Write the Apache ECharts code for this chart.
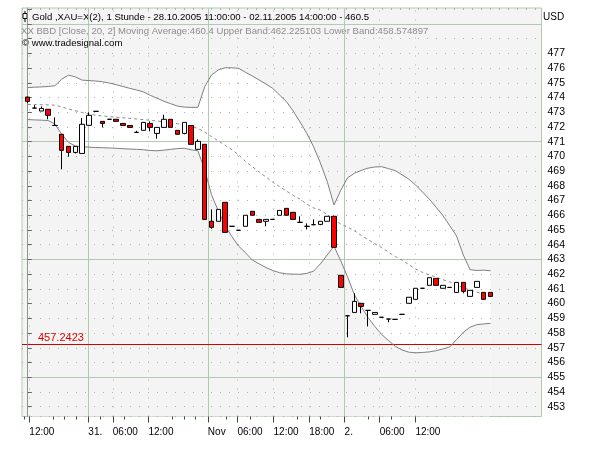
<!DOCTYPE html>
<html>
<head>
<meta charset="utf-8">
<script src="https://cdn.jsdelivr.net/npm/echarts@6/dist/echarts.min.js"></script>
<style>
html, body { margin: 0; background: #fff; }
#main { width: 600px; height: 450px; }
</style>
</head>
<body>
<div id="main"></div>
<script>
// Gold XAU=X(2), 1 Stunde, 28.10.2005 11:00 - 02.11.2005 14:00 (bar index 0..68)
var opens  = [474.03,473.28,473.08,473.20,472.10,471.50,470.68,470.27,470.20,472.11,
              473.06,472.38,472.52,472.52,472.24,472.10,471.63,471.77,472.24,471.56,
              471.97,472.52,471.77,471.56,472.10,470.48,470.82,465.59,465.59,466.88,
              465.25,464.98,465.25,466.27,465.72,465.59,465.72,466.00,466.47,466.20,
              465.52,465.25,465.36,465.38,465.59,465.93,461.92,459.17,459.40,460.02,
              459.54,459.27,459.07,458.95,458.93,459.27,460.02,460.29,461.04,461.24,
              461.71,461.04,461.10,460.76,461.44,460.49,461.10,460.76,460.76];
var closes = [473.74,473.28,473.26,472.79,472.10,470.41,470.27,470.68,472.18,472.79,
              473.06,472.24,472.52,472.38,472.10,471.97,471.63,472.31,471.97,471.97,
              472.52,471.97,471.50,472.31,470.82,471.02,465.72,465.18,466.40,464.84,
              465.25,464.98,466.00,466.00,465.52,465.72,465.72,466.33,466.00,465.72,
              465.52,465.25,465.36,465.59,465.93,463.82,461.10,459.17,460.15,459.81,
              459.54,459.40,459.07,458.95,458.93,459.27,460.43,461.04,461.04,461.76,
              461.24,461.24,461.10,461.44,460.83,460.90,461.51,460.29,460.49];
var lows   = [473.62,473.28,473.08,472.52,472.10,469.12,469.98,470.20,470.20,472.11,
              473.06,471.97,472.52,472.38,472.10,471.97,471.63,471.77,471.70,471.20,
              471.97,471.97,471.50,471.50,470.82,470.48,465.72,465.08,465.59,464.84,
              465.25,464.98,465.25,466.00,465.52,465.25,465.72,466.00,466.00,465.72,
              465.52,465.04,465.36,465.33,465.59,463.82,461.10,457.71,459.40,459.34,
              458.45,459.27,459.07,458.73,458.93,459.27,460.02,460.29,461.04,461.24,
              461.24,461.04,461.10,460.76,460.70,460.49,461.10,460.29,460.49];
var highs  = [474.05,473.48,473.40,473.20,472.65,471.50,470.68,470.70,472.60,472.99,
              473.06,472.38,472.52,472.52,472.24,472.10,471.74,472.31,472.38,471.97,
              472.83,472.52,471.77,472.31,472.10,471.16,470.82,466.40,466.40,466.88,
              465.25,464.98,466.00,466.27,465.72,465.72,465.72,466.33,466.47,466.20,
              465.93,465.45,465.72,465.59,465.93,465.98,461.92,459.17,460.70,460.02,
              459.54,459.40,459.07,458.95,458.93,459.27,460.43,461.04,461.04,461.76,
              461.71,461.24,461.10,461.44,461.44,460.90,461.51,460.76,460.76];

// Bollinger Bands [Close, 20, 2]
var upperBand = [474.67,474.70,474.72,474.75,474.80,475.25,475.52,475.40,475.18,475.15,
                 475.12,475.07,474.98,474.87,474.75,474.62,474.51,474.38,474.15,473.95,
                 473.75,473.58,473.42,473.35,473.33,473.33,474.73,475.53,475.87,476.02,
                 476.02,475.98,475.71,475.46,475.19,474.92,474.62,474.17,473.73,473.08,
                 472.35,471.57,470.66,469.55,468.30,466.70,467.70,468.55,468.85,469.05,
                 469.20,469.28,469.30,469.17,469.03,468.75,468.45,468.05,467.58,467.10,
                 466.55,465.98,465.30,464.60,463.30,462.30,462.25,462.27,462.23];
var movingAvg = [473.53,473.52,473.51,473.50,473.48,473.36,473.22,473.10,472.98,472.88,
                 472.80,472.74,472.70,472.66,472.62,472.58,472.54,472.50,472.45,472.40,
                 472.35,472.30,472.22,472.14,472.05,471.90,471.65,471.35,471.05,470.75,
                 470.45,470.10,469.65,469.30,468.95,468.60,468.25,467.95,467.65,467.35,
                 467.10,466.75,466.50,466.35,466.05,465.70,465.40,465.20,464.95,464.63,
                 464.35,464.07,463.80,463.50,463.20,462.95,462.65,462.35,462.12,461.95,
                 461.80,461.62,461.47,461.30,461.08,460.92,460.78,460.62,460.45];
var lowerBand = [472.50,472.48,472.46,472.44,472.20,471.50,470.95,470.70,470.65,470.63,
                 470.60,470.59,470.57,470.55,470.52,470.50,470.48,470.45,470.40,470.38,
                 470.42,470.48,470.53,470.55,470.45,470.38,469.10,467.40,466.30,465.30,
                 464.55,463.90,463.45,462.96,462.70,462.45,462.25,462.10,462.02,462.00,
                 461.99,462.05,462.20,462.70,463.30,463.90,462.90,461.80,460.60,459.80,
                 459.05,458.45,457.90,457.50,457.10,456.85,456.70,456.66,456.68,456.72,
                 456.80,456.92,457.05,457.55,458.05,458.40,458.57,458.62,458.66];

// time axis labels, placed in bar units
var xTickPos    = [0.24, 8.91, 12.5, 17.74, 26.47, 30.82, 36.12, 41.37, 46.56, 51.71, 56.96];
var xTickLabels = ['12:00', '31.', '06:00', '12:00', 'Nov', '06:00', '12:00', '18:00', '2.', '06:00', '12:00'];
var xMinorTicks = [-0.54, 3.82, 5.44, 7.1, 10.63, 14.16, 21.26, 22.94, 24.6, 29.12, 32.65, 39.56, 43.04, 50.09, 53.38];
var dayLabels   = ['31.', 'Nov', '2.'];
var majorLevels = [455, 463, 471, 479];
var refLevel    = 457.2423;

var FONT = '"Liberation Sans", Arial, sans-serif';
var GRID_SOLID = '#b3c9b3';
var GRID_DOT = '#9dbd9d';

function pairs(arr) {
    var out = [];
    for (var i = 0; i < arr.length; i++) out.push([i, arr[i]]);
    return out;
}
var candles = [];
for (var i = 0; i < opens.length; i++) {
    candles.push([i, opens[i], closes[i], lows[i], highs[i]]);
}

// grid lines as mark lines (solid on day change, dotted otherwise)
var gridLines = [];
for (var k = 0; k < xTickPos.length; k++) {
    var isDay = dayLabels.indexOf(xTickLabels[k]) >= 0;
    gridLines.push({
        xAxis: xTickPos[k],
        lineStyle: { color: isDay ? GRID_SOLID : GRID_DOT, type: isDay ? 'solid' : [1, 8], width: 1 },
        label: { show: false }
    });
}
majorLevels.forEach(function (v) {
    gridLines.push({ yAxis: v, lineStyle: { color: GRID_SOLID, type: 'solid', width: 1 }, label: { show: false } });
});
gridLines.push({
    yAxis: refLevel,
    lineStyle: { color: '#d40000', type: 'solid', width: 1 },
    label: {
        show: true, position: 'insideStartTop', distance: [16, 1],
        formatter: String(refLevel), color: '#e00000', fontSize: 11, fontFamily: FONT
    }
});

var myChart = echarts.init(document.getElementById('main'));

var option = {
    animation: false,
    grid: {
        left: 22, top: 8, width: 519.5, height: 408.5,
        show: true, backgroundColor: '#f4f4f4', borderColor: GRID_SOLID, borderWidth: 1
    },
    xAxis: [{
        type: 'value', min: -0.84, max: 75.49, position: 'bottom', z: 1,
        axisLine: { show: false },
        axisTick: { show: true, customValues: xTickPos, length: 6, lineStyle: { color: '#444' } },
        axisLabel: {
            customValues: xTickPos, align: 'left', margin: 11,
            color: '#000', fontSize: 10, fontFamily: FONT,
            formatter: function (v) {
                for (var j = 0; j < xTickPos.length; j++) {
                    if (Math.abs(xTickPos[j] - v) < 1e-6) return xTickLabels[j];
                }
                return '';
            }
        },
        splitLine: { show: false }
    }, {
        type: 'value', min: -0.84, max: 75.49, position: 'bottom', offset: 0, z: 1,
        axisLine: { show: false },
        axisTick: { show: true, customValues: xMinorTicks, length: 3, lineStyle: { color: '#444' } },
        axisLabel: { show: false },
        splitLine: { show: false }
    }],
    yAxis: {
        type: 'value', position: 'right', min: 452.33, max: 480.08,
        splitNumber: 28, minInterval: 1, maxInterval: 1, z: 1,
        axisLine: { show: true, lineStyle: { color: '#888', type: [1, 1] } },
        axisTick: { show: true, length: 4, lineStyle: { color: '#666' } },
        axisLabel: {
            color: '#000', fontSize: 10.5, fontFamily: FONT, margin: 6,
            showMinLabel: false, showMaxLabel: false,
            formatter: function (v) {
                return (Math.abs(v - Math.round(v)) < 1e-6 && v >= 453 && v <= 477) ? String(Math.round(v)) : '';
            }
        },
        splitLine: { show: true, lineStyle: { color: GRID_DOT, type: [1, 8], width: 1 } }
    },
    series: [{
        name: 'bandFillUpper', type: 'line', data: pairs(upperBand), z: 0, silent: true,
        symbol: 'none', lineStyle: { width: 0 },
        areaStyle: { color: '#ffffff', opacity: 1, origin: 'start' }
    }, {
        name: 'bandFillLower', type: 'line', data: pairs(lowerBand), z: 0, silent: true,
        symbol: 'none', lineStyle: { width: 0 },
        areaStyle: { color: '#f4f4f4', opacity: 1, origin: 'start' }
    }, {
        name: 'Upper Band', type: 'line', data: pairs(upperBand), symbol: 'none', silent: true,
        lineStyle: { color: '#7f7f7f', width: 1 }
    }, {
        name: 'Lower Band', type: 'line', data: pairs(lowerBand), symbol: 'none', silent: true,
        lineStyle: { color: '#7f7f7f', width: 1 }
    }, {
        name: 'Moving Average', type: 'line', data: pairs(movingAvg), symbol: 'none', silent: true,
        lineStyle: { color: '#8a8a8a', width: 1, type: [3, 3] }
    }, {
        name: 'Gold', type: 'candlestick', data: candles, barWidth: 5, z: 3,
        itemStyle: {
            color: '#ffffff', color0: '#ff0000',
            borderColor: '#000000', borderColor0: '#000000', borderColorDoji: '#000000',
            borderWidth: 1
        },
        markLine: {
            silent: true, symbol: 'none', z: 1, animation: false,
            data: gridLines
        }
    }],
    graphic: [
        { type: 'line', shape: { x1: 25, y1: 11, x2: 25, y2: 22 }, style: { stroke: '#000', lineWidth: 1 } },
        { type: 'rect', shape: { x: 23, y: 13.5, width: 4, height: 5 }, style: { fill: '#fff', stroke: '#000', lineWidth: 1 } },
        {
            type: 'text', x: 32, y: 17,
            style: {
                text: 'Gold ,XAU=X(2), 1 Stunde - 28.10.2005 11:00:00 - 02.11.2005 14:00:00 - 460.5',
                fill: '#000', fontSize: 9.6, fontFamily: FONT, verticalAlign: 'middle'
            }
        },
        {
            type: 'text', x: 21, y: 31.5,
            style: {
                text: 'XX BBD [Close, 20, 2] Moving Average:460.4 Upper Band:462.225103 Lower Band:458.574897',
                fill: '#8c8c8c', fontSize: 9.6, fontFamily: FONT, verticalAlign: 'middle'
            }
        },
        {
            type: 'text', x: 22, y: 43.5,
            style: { text: '\u00a9 www.tradesignal.com', fill: '#000', fontSize: 9.6, fontFamily: FONT, verticalAlign: 'middle' }
        },
        {
            type: 'text', x: 543, y: 17,
            style: { text: 'USD', fill: '#000', fontSize: 10, fontFamily: FONT, verticalAlign: 'middle' }
        }
    ]
};

myChart.setOption(option);
</script>
</body>
</html>
